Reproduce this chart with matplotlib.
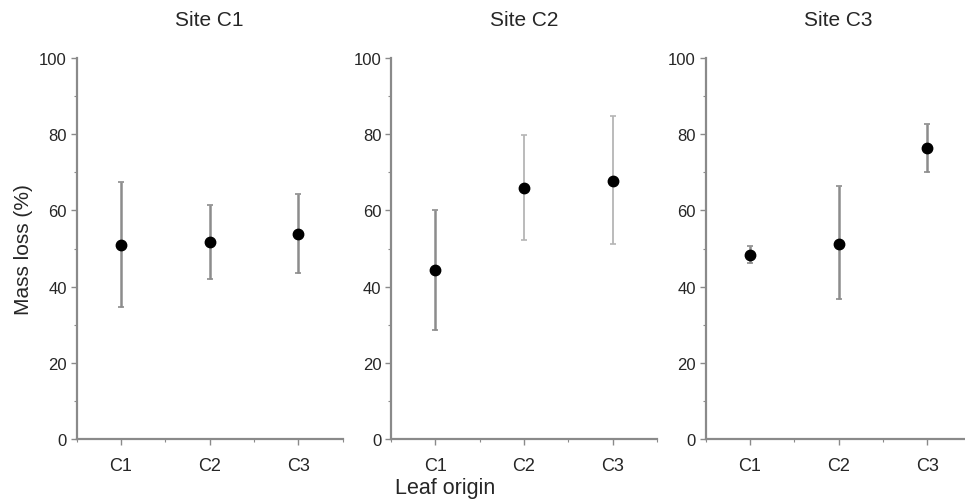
import matplotlib
matplotlib.use("Agg")
import matplotlib.pyplot as plt
from matplotlib.ticker import MultipleLocator

plt.rcParams['font.family'] = ['Liberation Sans', 'DejaVu Sans']

sites = ["Site C1", "Site C2", "Site C3"]
origins = ["C1", "C2", "C3"]
means = [
    [51.0, 51.6, 53.9],
    [44.4, 65.9, 67.8],
    [48.3, 51.3, 76.4],
]
upper = [
    [67.5, 61.5, 64.2],
    [60.1, 79.8, 84.9],
    [50.6, 66.4, 82.7],
]
lower = [
    [34.6, 42.0, 43.7],
    [28.6, 52.1, 51.1],
    [46.2, 36.7, 70.1],
]
yticks = [0, 20, 40, 60, 80, 100]

W, H = 965, 502
fig = plt.figure(figsize=(W / 100, H / 100), dpi=100)

lefts = [76.5, 391.0, 705.7]
ax_w = 266
ax_bottom = 440
ax_top = 59

axis_col = "#8a8a8a"
text_col = "#262626"
err_cols = [["#8c8c8c", "#8c8c8c", "#8c8c8c"],
            ["#8c8c8c", "#b5b5b5", "#b5b5b5"],
            ["#8c8c8c", "#8c8c8c", "#8c8c8c"]]
err_lw = [[1.8, 1.8, 1.8], [1.8, 1.3, 1.3], [1.8, 1.8, 1.8]]

axes = []
for i, site in enumerate(sites):
    ax = fig.add_axes([lefts[i] / W, (H - ax_bottom) / H, ax_w / W, (ax_bottom - ax_top) / H])
    axes.append(ax)
    x = list(range(1, len(origins) + 1))
    for j in range(len(origins)):
        m = means[i][j]
        ax.errorbar([x[j]], [m], yerr=[[m - lower[i][j]], [upper[i][j] - m]],
                    fmt='none', ecolor=err_cols[i][j], elinewidth=err_lw[i][j],
                    capsize=2.5, capthick=1.2, zorder=2)
    ax.plot(x, means[i], 'o', color='black', markersize=7.5, zorder=3)
    ax.set_xlim(0.5, 3.5)
    ax.set_ylim(0, 100)
    ax.set_xticks(x)
    ax.set_xticklabels(origins, fontsize=13, color=text_col)
    ax.set_yticks(yticks)
    ax.set_yticklabels([str(v) for v in yticks], fontsize=12, color=text_col)
    ax.xaxis.set_minor_locator(MultipleLocator(0.5))
    ax.yaxis.set_minor_locator(MultipleLocator(10))
    for side in ['top', 'right']:
        ax.spines[side].set_visible(False)
    for side in ['left', 'bottom']:
        ax.spines[side].set_color(axis_col)
        ax.spines[side].set_linewidth(1.6)
    ax.tick_params(axis='both', which='major', direction='out', length=4, width=1.0,
                   color=axis_col, pad=3)
    ax.tick_params(axis='x', which='major', pad=9)
    ax.tick_params(axis='both', which='minor', direction='out', length=2, width=0.8,
                   color=axis_col)
    ax.set_title(site, fontsize=15, color=text_col, pad=24)

axes[0].set_ylabel("Mass loss (%)", fontsize=15, color=text_col, labelpad=4)
fig.text(445 / W, 1 - 489 / H, "Leaf origin", fontsize=15.5, color=text_col,
         ha='center', va='center')

fig.savefig("out.png", dpi=100, facecolor='white')
